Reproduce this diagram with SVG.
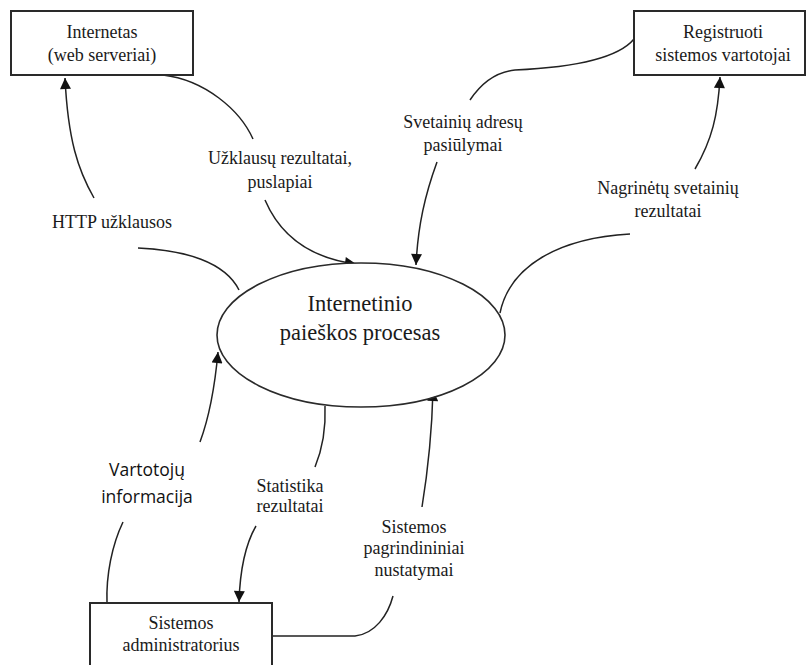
<svg xmlns="http://www.w3.org/2000/svg" width="808" height="665" viewBox="0 0 808 665">
  <style>
    .box { fill: #fff; stroke: #2a2a2a; stroke-width: 2; }
    .proc { fill: #fff; stroke: #2a2a2a; stroke-width: 1.6; }
    .flow { fill: none; stroke: #222; stroke-width: 1.5; }
    .lbl { font-family: "Liberation Serif", "Times New Roman", serif; font-size: 18px; fill: #1a1a1a; text-anchor: middle; }
    .big { font-family: "Liberation Serif", "Times New Roman", serif; font-size: 22.5px; fill: #1a1a1a; text-anchor: middle; }
    .sans { font-family: "Open Sans", "Liberation Sans", sans-serif; font-size: 17.5px; fill: #111; text-anchor: middle; }
  </style>
  <defs>
    <marker id="arrow" viewBox="0 0 10 10" refX="10" refY="5" markerWidth="12" markerHeight="11" markerUnits="userSpaceOnUse" orient="auto">
      <path d="M0,0 L10,5 L0,10 Z" fill="#111"/>
    </marker>
  </defs>

  <rect width="808" height="665" fill="#fff"/>

  <!-- data flows -->
  <g id="connectors">
    <!-- HTTP requests -->
    <path class="flow" d="M239,290 C225,262 185,250 138,248"/>
    <path class="flow" d="M94,198 C78,170 68,140 65,78" marker-end="url(#arrow)"/>
    <!-- query results, pages -->
    <path class="flow" d="M163,75 C205,80 240,110 253,139"/>
    <path class="flow" d="M265,200 C280,235 310,258 356,264" marker-end="url(#arrow)"/>
    <!-- suggested site addresses -->
    <path class="flow" d="M634,39 C615,62 560,68 515,70 C495,72 480,85 470,100"/>
    <path class="flow" d="M437,162 C425,195 418,225 416,265" marker-end="url(#arrow)"/>
    <!-- analysed site results -->
    <path class="flow" d="M500,313 C510,265 560,238 630,234"/>
    <path class="flow" d="M695,169 C712,140 718,115 720,77" marker-end="url(#arrow)"/>
    <!-- user information -->
    <path class="flow" d="M107,603 C106,575 112,545 123,522"/>
    <path class="flow" d="M200,442 C210,415 215,385 218,352" marker-end="url(#arrow)"/>
    <!-- statistics results -->
    <path class="flow" d="M325,406 C326,430 322,450 315,467"/>
    <path class="flow" d="M256,526 C245,545 240,570 239,602" marker-end="url(#arrow)"/>
    <!-- main system settings -->
    <path class="flow" d="M272,636 L355,636 C375,634 388,615 393,596"/>
    <path class="flow" d="M422,507 C428,470 432,430 433,390" marker-end="url(#arrow)"/>
  </g>

  <!-- flow labels -->
  <g id="labels">
    <text class="lbl" x="112" y="228">HTTP užklausos</text>
    <text class="lbl" x="280" y="164">Užklausų rezultatai,</text>
    <text class="lbl" x="280" y="188">puslapiai</text>
    <text class="lbl" x="463" y="128">Svetainių adresų</text>
    <text class="lbl" x="463" y="151">pasiūlymai</text>
    <text class="lbl" x="668" y="194">Nagrinėtų svetainių</text>
    <text class="lbl" x="668" y="217">rezultatai</text>
    <text class="sans" x="147" y="476">Vartotojų</text>
    <text class="sans" x="147" y="503">informacija</text>
    <text class="lbl" x="290" y="492">Statistika</text>
    <text class="lbl" x="290" y="512">rezultatai</text>
    <text class="lbl" x="414" y="533">Sistemos</text>
    <text class="lbl" x="414" y="554">pagrindininiai</text>
    <text class="lbl" x="414" y="576">nustatymai</text>
  </g>

  <!-- external entities and process -->
  <g id="internetas">
    <rect class="box" x="11" y="11" width="182" height="64"/>
    <text class="lbl" x="102" y="38">Internetas</text>
    <text class="lbl" x="102" y="61">(web serveriai)</text>
  </g>

  <g id="registruoti">
    <rect class="box" x="634" y="11" width="171" height="64"/>
    <text class="lbl" x="723" y="38">Registruoti</text>
    <text class="lbl" x="723" y="61">sistemos vartotojai</text>
  </g>

  <g id="procesas">
    <ellipse class="proc" cx="361" cy="335" rx="144" ry="72"/>
    <text class="big" x="360" y="311">Internetinio</text>
    <text class="big" x="360" y="340">paieškos procesas</text>
  </g>

  <g id="administratorius">
    <rect class="box" x="90" y="603" width="182" height="70"/>
    <text class="lbl" x="181" y="629">Sistemos</text>
    <text class="lbl" x="181" y="651">administratorius</text>
  </g>
</svg>
